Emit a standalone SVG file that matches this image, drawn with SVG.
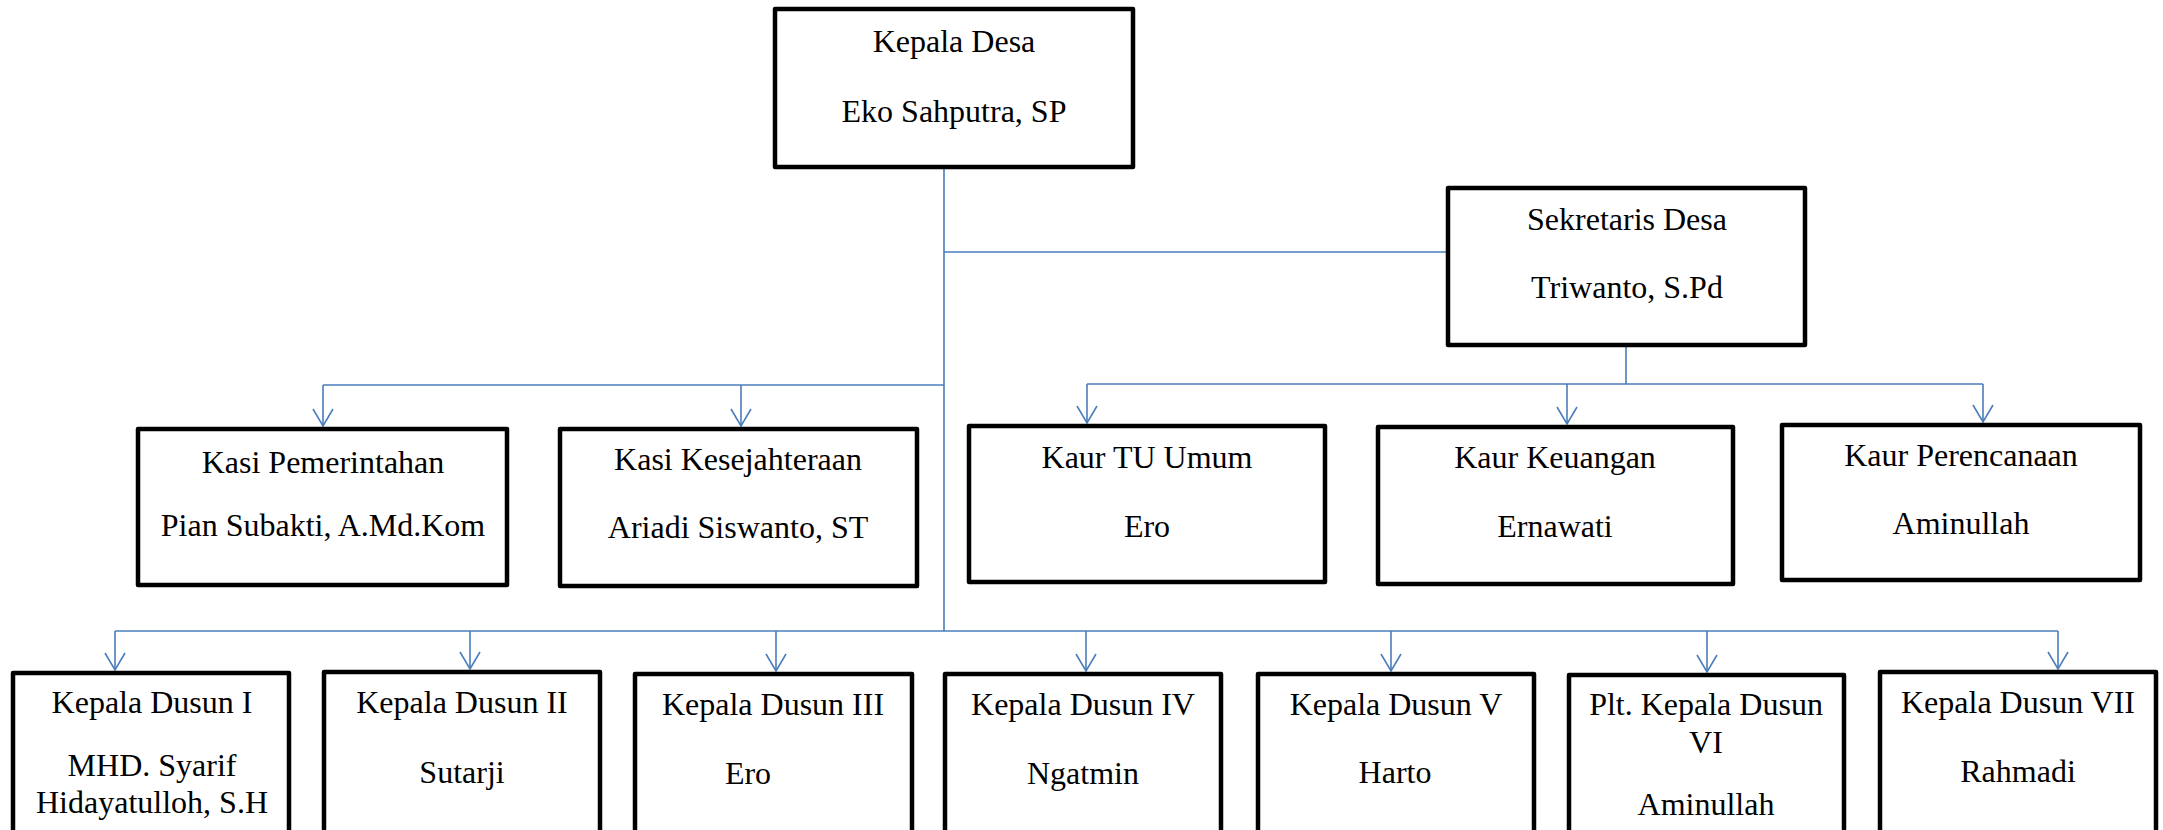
<svg xmlns="http://www.w3.org/2000/svg" width="2163" height="830" viewBox="0 0 2163 830">
<style>
.box{fill:#fff;stroke:#000;stroke-width:4.5;stroke-linejoin:round}
.t{font-family:"Liberation Serif","Times New Roman",serif;font-size:32px;fill:#000;text-anchor:middle}
.c{fill:none;stroke:#4a7ebb;stroke-width:1.6}
.a{marker-end:url(#arr)}
</style>
<defs>
<marker id="arr" markerUnits="userSpaceOnUse" markerWidth="26" markerHeight="26" viewBox="-22 -13 26 26" refX="0" refY="0" orient="auto" overflow="visible">
<path d="M-17,-10 L0,0 L-17,10" fill="none" stroke="#4a7ebb" stroke-width="1.6"/>
</marker>
</defs>
<rect width="2163" height="830" fill="#fff"/>
<g id="connectors">
<path class="c" d="M944,169 V631"/>
<path class="c" d="M944,252 H1446"/>
<path class="c" d="M944,385 H323"/>
<path class="c a" d="M323,385 V426"/>
<path class="c a" d="M741,385 V426"/>
<path class="c" d="M1626,347 V384 M1087,384 H1983"/>
<path class="c a" d="M1087,384 V423"/>
<path class="c a" d="M1567,384 V424"/>
<path class="c a" d="M1983,384 V422"/>
<path class="c" d="M115,631 H2058"/>
<path class="c a" d="M115,631 V670"/>
<path class="c a" d="M470,631 V669"/>
<path class="c a" d="M776,631 V671"/>
<path class="c a" d="M1086,631 V671"/>
<path class="c a" d="M1391,631 V671"/>
<path class="c a" d="M1707,631 V672"/>
<path class="c a" d="M2058,631 V669"/>
</g>
<g id="kepala-desa">
<rect class="box" x="775" y="9" width="358" height="158"/>
<text class="t" x="954" y="52">Kepala Desa</text>
<text class="t" x="954" y="122">Eko Sahputra, SP</text>
</g>
<g id="sekretaris-desa">
<rect class="box" x="1448" y="188" width="357" height="157"/>
<text class="t" x="1627" y="230">Sekretaris Desa</text>
<text class="t" x="1627" y="298">Triwanto, S.Pd</text>
</g>
<g id="kasi-pemerintahan">
<rect class="box" x="138" y="429" width="369" height="156"/>
<text class="t" x="323" y="473">Kasi Pemerintahan</text>
<text class="t" x="323" y="536">Pian Subakti, A.Md.Kom</text>
</g>
<g id="kasi-kesejahteraan">
<rect class="box" x="560" y="429" width="357" height="157"/>
<text class="t" x="738" y="470">Kasi Kesejahteraan</text>
<text class="t" x="738" y="538">Ariadi Siswanto, ST</text>
</g>
<g id="kaur-tu-umum">
<rect class="box" x="969" y="426" width="356" height="156"/>
<text class="t" x="1147" y="468">Kaur TU Umum</text>
<text class="t" x="1147" y="537">Ero</text>
</g>
<g id="kaur-keuangan">
<rect class="box" x="1378" y="427" width="355" height="157"/>
<text class="t" x="1555" y="468">Kaur Keuangan</text>
<text class="t" x="1555" y="537">Ernawati</text>
</g>
<g id="kaur-perencanaan">
<rect class="box" x="1782" y="425" width="358" height="155"/>
<text class="t" x="1961" y="466">Kaur Perencanaan</text>
<text class="t" x="1961" y="534">Aminullah</text>
</g>
<g id="dusun-1">
<rect class="box" x="13" y="673" width="276" height="170"/>
<text class="t" x="152" y="713">Kepala Dusun I</text>
<text class="t" x="152" y="776">MHD. Syarif</text>
<text class="t" x="152" y="813">Hidayatulloh, S.H</text>
</g>
<g id="dusun-2">
<rect class="box" x="324" y="672" width="276" height="170"/>
<text class="t" x="462" y="713">Kepala Dusun II</text>
<text class="t" x="462" y="783">Sutarji</text>
</g>
<g id="dusun-3">
<rect class="box" x="635" y="674" width="277" height="170"/>
<text class="t" x="773" y="715">Kepala Dusun III</text>
<text class="t" x="748" y="784">Ero</text>
</g>
<g id="dusun-4">
<rect class="box" x="945" y="674" width="276" height="170"/>
<text class="t" x="1083" y="715">Kepala Dusun IV</text>
<text class="t" x="1083" y="784">Ngatmin</text>
</g>
<g id="dusun-5">
<rect class="box" x="1258" y="674" width="276" height="170"/>
<text class="t" x="1396" y="715">Kepala Dusun V</text>
<text class="t" x="1395" y="783">Harto</text>
</g>
<g id="dusun-6">
<rect class="box" x="1569" y="675" width="275" height="170"/>
<text class="t" x="1706" y="715">Plt. Kepala Dusun</text>
<text class="t" x="1706" y="753">VI</text>
<text class="t" x="1706" y="815">Aminullah</text>
</g>
<g id="dusun-7">
<rect class="box" x="1880" y="672" width="276" height="170"/>
<text class="t" x="2018" y="713">Kepala Dusun VII</text>
<text class="t" x="2018" y="782">Rahmadi</text>
</g>
</svg>
